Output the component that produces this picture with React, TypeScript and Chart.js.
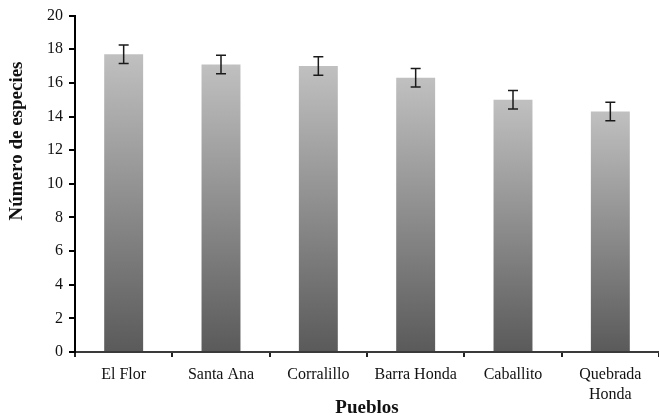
import React, { useEffect, useRef } from "react";
import { Chart, registerables } from "chart.js";

Chart.register(...registerables);

const categories: (string | string[])[] = [
  "El Flor",
  "Santa Ana",
  "Corralillo",
  "Barra Honda",
  "Caballito",
  ["Quebrada", "Honda"],
];
const speciesValues = [17.7, 17.1, 17.0, 16.3, 15.0, 14.3];
const speciesErrors = [0.55, 0.55, 0.55, 0.55, 0.55, 0.55];
const yTitle = "Número de especies";
const xTitle = "Pueblos";

const FONT = "'Liberation Serif', 'Times New Roman', serif";

export default function App() {
  const ref = useRef<HTMLCanvasElement | null>(null);

  useEffect(() => {
    if (!ref.current) return;

    const errorBars = {
      id: "errorBars",
      afterDatasetsDraw(chart: any) {
        const ctx = chart.ctx;
        const meta = chart.getDatasetMeta(0);
        const y = chart.scales.y;
        ctx.save();
        ctx.strokeStyle = "#1a1a1a";
        ctx.lineWidth = 1.5;
        meta.data.forEach((bar: any, i: number) => {
          const v = speciesValues[i];
          const e = speciesErrors[i];
          const yt = y.getPixelForValue(v + e);
          const yb = y.getPixelForValue(v - e);
          const x = bar.x;
          const cap = 5;
          ctx.beginPath();
          ctx.moveTo(x, yt);
          ctx.lineTo(x, yb);
          ctx.moveTo(x - cap, yt);
          ctx.lineTo(x + cap, yt);
          ctx.moveTo(x - cap, yb);
          ctx.lineTo(x + cap, yb);
          ctx.stroke();
        });
        ctx.restore();
      },
    };

    const yTitlePlugin = {
      id: "yTitlePlugin",
      afterDraw(chart: any) {
        const ctx = chart.ctx;
        ctx.save();
        ctx.translate(17, 141);
        ctx.rotate(-Math.PI / 2);
        ctx.font = `bold 19px ${FONT}`;
        ctx.fillStyle = "#111";
        ctx.textAlign = "center";
        ctx.textBaseline = "middle";
        ctx.fillText(yTitle, 0, 0);
        ctx.restore();
      },
    };

    const chart = new Chart(ref.current, {
      type: "bar",
      data: {
        labels: categories,
        datasets: [
          {
            data: speciesValues,
            backgroundColor: (context: any) => {
              const c = context.chart;
              const ys = c.scales?.y;
              if (!c.chartArea || !ys || context.parsed == null) return "#8a8a8a";
              const top = ys.getPixelForValue(context.parsed.y);
              const bottom = ys.getPixelForValue(0);
              const g = c.ctx.createLinearGradient(0, top, 0, bottom);
              g.addColorStop(0, "#c0c0c0");
              g.addColorStop(1, "#5a5a5a");
              return g;
            },
            borderWidth: 0,
            categoryPercentage: 1,
            barPercentage: 0.4,
          },
        ],
      },
      options: {
        responsive: false,
        animation: false,
        events: [],
        layout: { padding: { top: 14, right: 0, left: 0, bottom: 0 } },
        plugins: {
          legend: { display: false },
          tooltip: { enabled: false },
          title: { display: false },
        },
        scales: {
          x: {
            afterFit: (s: any) => {
              s.height = 67;
            },
            grid: {
              offset: true,
              drawOnChartArea: false,
              drawTicks: true,
              tickLength: 5,
              color: "#222",
              lineWidth: 2,
            },
            border: { display: true, color: "#3a3a3a", width: 2 },
            ticks: {
              color: "#111",
              padding: 8,
              font: { family: FONT, size: 16, lineHeight: 1.25 },
              maxRotation: 0,
              autoSkip: false,
            },
            title: {
              display: true,
              text: xTitle,
              color: "#111",
              font: { family: FONT, size: 19, weight: "bold" },
              padding: { top: 0, bottom: 0 },
            },
          },
          y: {
            min: 0,
            max: 20,
            afterFit: (s: any) => {
              s.width = 75;
            },
            grid: {
              drawOnChartArea: false,
              drawTicks: true,
              tickLength: 6,
              color: "#000",
              lineWidth: 2,
            },
            border: { display: true, color: "#000", width: 2 },
            ticks: {
              stepSize: 2,
              color: "#111",
              padding: 6,
              font: { family: FONT, size: 16 },
            },
            title: { display: false },
          },
        },
      },
      plugins: [errorBars, yTitlePlugin],
    } as any);

    return () => chart.destroy();
  }, []);

  return (
    <div style={{ position: "fixed", left: 0, top: 0, width: 659, height: 419, background: "#fff" }}>
      <canvas ref={ref} width={659} height={419} />
    </div>
  );
}
